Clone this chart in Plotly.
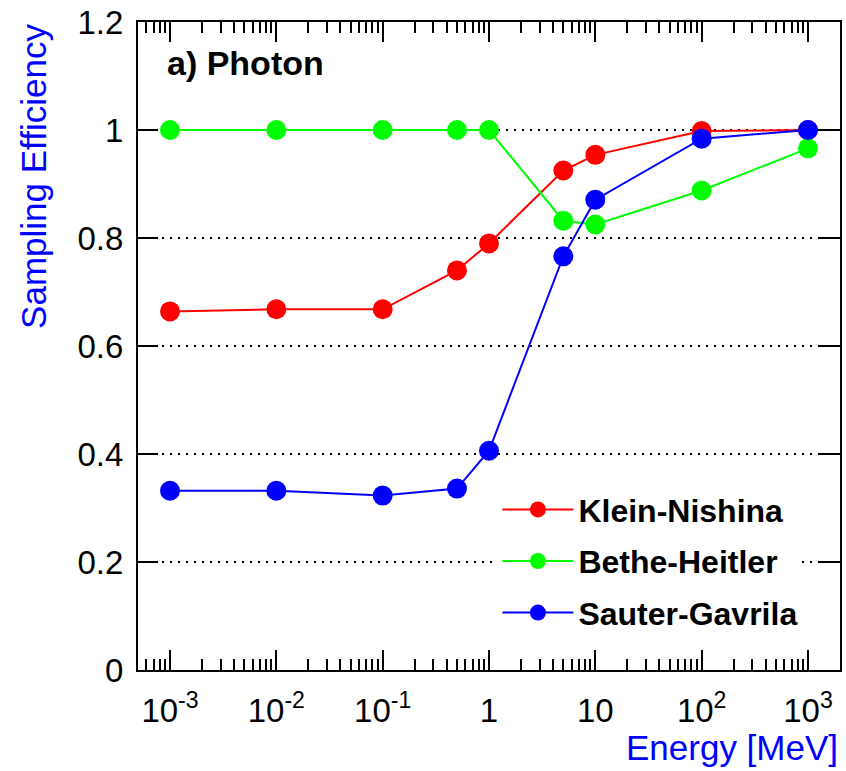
import plotly.graph_objects as go

energy = [1e-3, 1e-2, 1e-1, 0.5, 1, 5, 10, 100, 1000]
klein_nishina = [0.664, 0.668, 0.668, 0.740, 0.790, 0.925, 0.954, 0.998, 1.0]
bethe_heitler = [1.0, 1.0, 1.0, 1.0, 1.0, 0.832, 0.825, 0.888, 0.966]
sauter_gavrila = [0.332, 0.332, 0.323, 0.336, 0.406, 0.766, 0.871, 0.984, 1.0]

x_tickvals = [1e-3, 1e-2, 1e-1, 1, 10, 100, 1000]
x_ticktext = ["10<sup>-3</sup>", "10<sup>-2</sup>", "10<sup>-1</sup>", "1", "10",
              "10<sup>2</sup>", "10<sup>3</sup>"]
y_tickvals = [0, 0.2, 0.4, 0.6, 0.8, 1.0, 1.2]
y_ticktext = ["0", "0.2", "0.4", "0.6", "0.8", "1", "1.2"]

minor_vals = [m * 10.0 ** e for e in range(-4, 4) for m in range(2, 10)]

series = [
    ("Klein-Nishina", klein_nishina, "#ff0000"),
    ("Bethe-Heitler", bethe_heitler, "#00ff00"),
    ("Sauter-Gavrila", sauter_gavrila, "#0000ff"),
]

FONT = "Liberation Sans, Arial, Helvetica, sans-serif"

fig = go.Figure()
for i, (name, vals, col) in enumerate(series):
    fig.add_trace(go.Scatter(
        x=energy, y=vals, name=name, mode="lines+markers",
        line=dict(color=col, width=2),
        marker=dict(color=col, size=20, line=dict(width=0)),
        legendgroup=f"g{i}",
    ))

axis_common = dict(
    showline=True, linecolor="black", linewidth=2, mirror="ticks",
    ticks="inside", ticklen=20, tickwidth=2, tickcolor="black",
    tickfont=dict(family=FONT, size=33, color="black"),
    zeroline=False,
)

fig.update_xaxes(
    type="log", range=[-3.301, 3.301],
    tickmode="array", tickvals=x_tickvals, ticktext=x_ticktext,
    showgrid=False, ticklabelstandoff=10,
    minor=dict(tickmode="array", tickvals=minor_vals, ticks="inside",
               ticklen=11, tickwidth=2, tickcolor="black", showgrid=False),
    **axis_common,
)
fig.update_yaxes(
    range=[0, 1.2], tickmode="array", tickvals=y_tickvals, ticktext=y_ticktext,
    showgrid=True, gridcolor="black", gridwidth=2, griddash="2px,6px",
    ticklabelstandoff=6,
    **axis_common,
)

fig.update_layout(
    width=846, height=771,
    margin=dict(l=138, r=4, t=21, b=101),
    paper_bgcolor="white", plot_bgcolor="white",
    font=dict(family=FONT, color="black"),
    showlegend=True,
    legend=dict(
        x=0.512, y=0.29, xanchor="left", yanchor="top",
        bgcolor="white", borderwidth=0,
        font=dict(family=FONT, size=32, color="black", weight="bold"),
        itemwidth=71, tracegroupgap=7,
    ),
    annotations=[
        dict(text="a) Photon", xref="paper", yref="paper", x=0.038, y=0.937,
             xanchor="left", yanchor="middle", showarrow=False,
             font=dict(family=FONT, size=34, color="black", weight="bold")),
        dict(text="Sampling Efficiency", xref="paper", yref="paper",
             x=-0.149, y=1.0, xanchor="center", yanchor="top", textangle=-90,
             showarrow=False, font=dict(family=FONT, size=35, color="#0000ff")),
        dict(text="Energy [MeV]", xref="paper", yref="paper",
             x=1.0, y=-0.119, xanchor="right", yanchor="middle",
             showarrow=False, font=dict(family=FONT, size=35, color="#0000ff")),
    ],
)

fig.write_html("out.html")
